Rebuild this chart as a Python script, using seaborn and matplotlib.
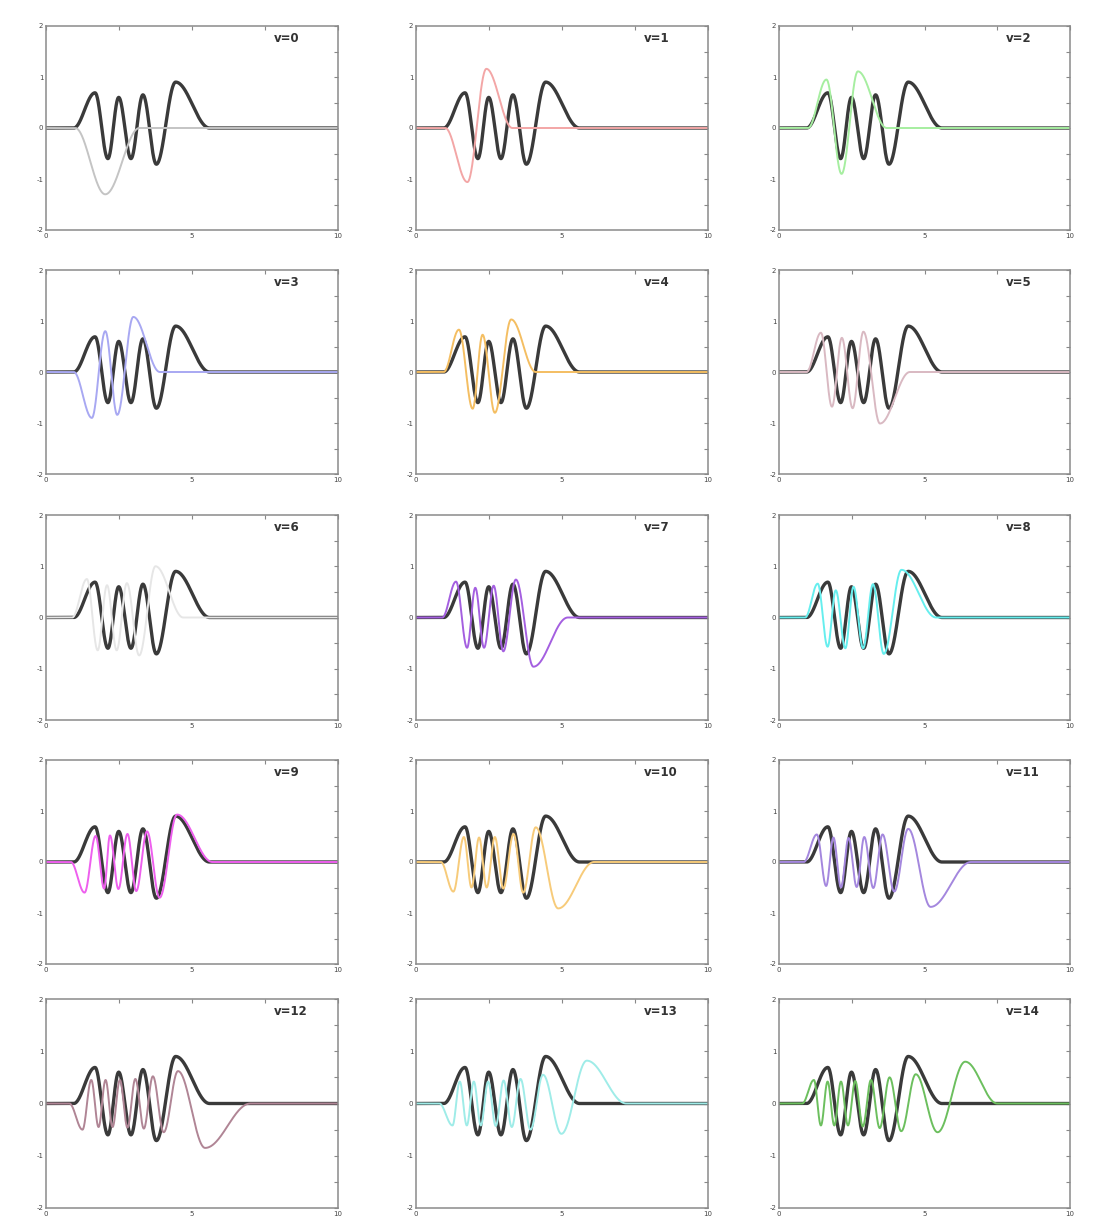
import numpy as np
import pandas as pd
import matplotlib
matplotlib.use("Agg")
import matplotlib.pyplot as plt
import seaborn as sns

# reference curve (black, same in every panel): extrema
ref_start, ref_end = 0.95, 5.6
ref_x = [1.68, 2.12, 2.49, 2.91, 3.32, 3.78, 4.44]
ref_y = [0.69, -0.60, 0.60, -0.60, 0.65, -0.71, 0.90]

# one colored curve per v: where it leaves zero, its extrema, where it dies out
v_labels = ["v=%d" % i for i in range(15)]
v_start = [1.0, 1.0, 1.0, 0.95, 0.95, 0.95, 0.9, 0.9, 0.9, 0.85, 0.85, 0.85, 0.8, 0.8, 0.8]
v_end = [3.2, 3.3, 3.7, 3.9, 4.1, 4.5, 4.7, 5.2, 5.4, 5.7, 6.1, 6.6, 7.0, 7.2, 7.5]
v_x = [
    [2.03],
    [1.76, 2.41],
    [1.63, 2.15, 2.71],
    [1.57, 2.03, 2.44, 2.99],
    [1.47, 1.94, 2.28, 2.70, 3.26],
    [1.44, 1.82, 2.16, 2.53, 2.90, 3.47],
    [1.40, 1.77, 2.09, 2.42, 2.77, 3.19, 3.75],
    [1.37, 1.75, 2.03, 2.33, 2.66, 2.99, 3.42, 4.02],
    [1.33, 1.67, 1.95, 2.28, 2.56, 2.89, 3.23, 3.60, 4.21],
    [1.32, 1.70, 1.99, 2.19, 2.48, 2.79, 3.09, 3.46, 3.89, 4.49],
    [1.28, 1.64, 1.90, 2.16, 2.42, 2.70, 2.99, 3.34, 3.67, 4.10, 4.87],
    [1.30, 1.62, 1.87, 2.13, 2.39, 2.67, 2.93, 3.24, 3.56, 3.96, 4.44, 5.21],
    [1.25, 1.55, 1.80, 2.04, 2.28, 2.53, 2.79, 3.06, 3.35, 3.66, 4.03, 4.52, 5.45],
    [1.25, 1.50, 1.74, 1.98, 2.22, 2.47, 2.73, 3.00, 3.28, 3.58, 3.92, 4.35, 4.98, 5.85],
    [1.20, 1.44, 1.67, 1.90, 2.13, 2.37, 2.62, 2.88, 3.16, 3.46, 3.80, 4.20, 4.70, 5.45, 6.40],
]
v_y = [
    [-1.30],
    [-1.06, 1.16],
    [0.95, -0.90, 1.11],
    [-0.90, 0.80, -0.84, 1.08],
    [0.83, -0.72, 0.73, -0.80, 1.03],
    [0.77, -0.68, 0.67, -0.71, 0.79, -1.01],
    [0.75, -0.64, 0.63, -0.64, 0.67, -0.74, 1.00],
    [0.70, -0.59, 0.58, -0.59, 0.62, -0.66, 0.74, -0.96],
    [0.66, -0.57, 0.53, -0.60, 0.60, -0.60, 0.65, -0.71, 0.93],
    [-0.60, 0.51, -0.52, 0.52, -0.53, 0.55, -0.57, 0.60, -0.70, 0.93],
    [-0.58, 0.49, -0.50, 0.48, -0.50, 0.49, -0.52, 0.55, -0.60, 0.68, -0.91],
    [0.54, -0.47, 0.48, -0.50, 0.47, -0.49, 0.49, -0.51, 0.54, -0.58, 0.65, -0.88],
    [-0.50, 0.45, -0.45, 0.45, -0.45, 0.45, -0.46, 0.47, -0.48, 0.52, -0.55, 0.62, -0.85],
    [-0.42, 0.42, -0.42, 0.42, -0.42, 0.42, -0.43, 0.44, -0.45, 0.47, -0.50, 0.55, -0.58, 0.82],
    [0.45, -0.42, 0.42, -0.42, 0.42, -0.42, 0.43, -0.44, 0.45, -0.47, 0.50, -0.53, 0.56, -0.55, 0.80],
]

colors = ["#c4c4c4", "#f3a6a6", "#a6eea0", "#a8a8f2", "#f4be62",
          "#d9b9c2", "#e6e6e6", "#a45fe0", "#66eeee", "#ee5fee",
          "#f7cb7a", "#a487de", "#b08595", "#9fece8", "#6cbf5e"]

# panel edges in pixels (the reference is a collage of screenshots)
col_left = [46, 416, 779]
col_right = [338, 708, 1070]
row_top = [26, 270, 515, 760, 999]
row_bottom = [230, 474, 720, 964, 1208]

W, H = 1097, 1218


def trace(x0, xe, ye, x1):
    # smooth lobes between the read extrema
    kx = [x0] + list(xe) + [x1]
    ky = [0.0] + list(ye) + [0.0]
    x = np.linspace(0, 10, 1201)
    y = np.zeros_like(x)
    for a, b, ya, yb in zip(kx[:-1], kx[1:], ky[:-1], ky[1:]):
        m = (x >= a) & (x <= b)
        t = (x[m] - a) / (b - a)
        y[m] = ya + (yb - ya) * (1 - np.cos(np.pi * t)) / 2
    return pd.DataFrame({"x": x, "y": y})


sns.set_style("white")
fig = plt.figure(figsize=(W / 100, H / 100), dpi=100)

ref = trace(ref_start, ref_x, ref_y, ref_end)

for i in range(15):
    r, c = divmod(i, 3)
    ax = fig.add_axes([col_left[c] / W, 1 - row_bottom[r] / H,
                       (col_right[c] - col_left[c]) / W,
                       (row_bottom[r] - row_top[r]) / H])
    d = trace(v_start[i], v_x[i], v_y[i], v_end[i])
    sns.lineplot(data=ref, x="x", y="y", ax=ax, color="#3a3a3a", lw=2.4,
                 estimator=None, sort=False)
    sns.lineplot(data=d, x="x", y="y", ax=ax, color=colors[i], lw=1.4,
                 estimator=None, sort=False)
    ax.set_xlim(0, 10)
    ax.set_ylim(-2, 2)
    ax.set_xticks([0, 5, 10])
    ax.set_xticklabels(["0", "5", "10"])
    ax.set_yticks([-2, -1, 0, 1, 2])
    ax.set_yticklabels(["-2", "-1", "0", "1", "2"])
    ax.set_xticks([2.5, 7.5], minor=True)
    ax.set_yticks([-1.5, -0.5, 0.5, 1.5], minor=True)
    ax.tick_params(which="both", direction="in", top=True, right=True,
                   length=3, width=0.8, color="#888888", labelsize=5,
                   labelcolor="#444444", pad=2)
    ax.set_xlabel("")
    ax.set_ylabel("")
    for s in ax.spines.values():
        s.set_color("#8a8a8a")
        s.set_linewidth(1.1)
    ax.text(0.78, 0.94, v_labels[i], transform=ax.transAxes, fontsize=8.5,
            fontweight="bold", color="#333333", ha="left", va="center")

fig.savefig("out.png", dpi=100)
